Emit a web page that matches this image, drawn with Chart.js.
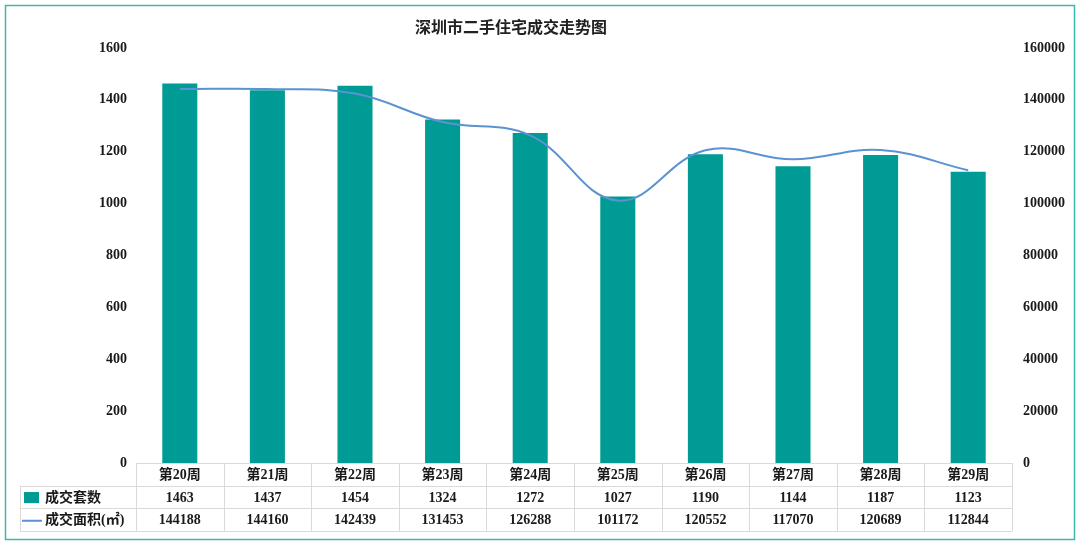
<!DOCTYPE html>
<html>
<head>
<meta charset="utf-8">
<script src="https://cdn.jsdelivr.net/npm/chart.js@4"></script>
<style>
  html, body { margin: 0; padding: 0; background: #fff; }
  #wrap { width: 1080px; height: 545px; position: relative; }
</style>
</head>
<body>
<div id="wrap"><canvas id="ch"></canvas></div>
<script>
// ── 数据 ──
const weeks = ['第20周', '第21周', '第22周', '第23周', '第24周', '第25周', '第26周', '第27周', '第28周', '第29周'];
const units = [1463, 1437, 1454, 1324, 1272, 1027, 1190, 1144, 1187, 1123];
const areas = [144188, 144160, 142439, 131453, 126288, 101172, 120552, 117070, 120689, 112844];
const leftTicks = [0, 200, 400, 600, 800, 1000, 1200, 1400, 1600];
const rightTicks = [0, 20000, 40000, 60000, 80000, 100000, 120000, 140000, 160000];

const TITLE = '深圳市二手住宅成交走势图';
const NAME_UNITS = '成交套数';
const NAME_AREA = '成交面积(㎡)';

const BAR_COLOR = '#009b94';
const LINE_COLOR = '#5b92d2';
const FONT = "'Liberation Serif', 'Noto Sans CJK SC', serif";

// ── 边框 + 标题 + 数据表 ──
const tablePlugin = {
  id: 'dataTable',
  beforeDraw(chart) {
    const c = chart.ctx;
    c.save();
    c.fillStyle = '#fff';
    c.fillRect(0, 0, chart.width, chart.height);
    c.restore();
  },
  afterDraw(chart) {
    const c = chart.ctx;
    const area = chart.chartArea;
    const xs = chart.scales.x;
    const n = weeks.length;
    const step = (area.right - area.left) / n;
    const top = area.bottom;
    const rowH = 22.7;
    const legL = 20;

    c.save();
    // 外框
    c.strokeStyle = '#3db6ae';
    c.lineWidth = 1.5;
    c.strokeRect(5.5, 5.5, chart.width - 11, chart.height - 11);

    // 标题
    c.fillStyle = '#222';
    c.font = "bold 16px 'Noto Sans CJK SC', sans-serif";
    c.textAlign = 'center';
    c.textBaseline = 'middle';
    c.fillText(TITLE, 511, 27);

    // 表格线
    c.strokeStyle = '#dadada';
    c.lineWidth = 1;
    c.beginPath();
    c.moveTo(area.left, top + 0.5); c.lineTo(area.right, top + 0.5);
    for (let r = 1; r <= 3; r++) {
      const y = Math.round(top + r * rowH) + 0.5;
      c.moveTo(legL, y); c.lineTo(area.right, y);
    }
    for (let i = 0; i <= n; i++) {
      const x = Math.round(area.left + i * step) + 0.5;
      c.moveTo(x, top); c.lineTo(x, top + 3 * rowH);
    }
    c.moveTo(legL + 0.5, top + rowH); c.lineTo(legL + 0.5, top + 3 * rowH);
    c.stroke();

    // 单元格文字
    c.fillStyle = '#1a1a1a';
    c.textAlign = 'center';
    c.font = 'bold 14px ' + FONT;
    for (let i = 0; i < n; i++) {
      const x = xs.getPixelForValue(i);
      c.fillText(weeks[i], x, top + rowH * 0.5 + 1);
      c.fillText(String(units[i]), x, top + rowH * 1.5 + 1);
      c.fillText(String(areas[i]), x, top + rowH * 2.5 + 1);
    }

    // 图例列
    c.textAlign = 'left';
    c.font = 'bold 14px ' + FONT;
    c.fillStyle = BAR_COLOR;
    c.fillRect(24, top + rowH * 1.5 - 5, 15, 11);
    c.fillStyle = '#1a1a1a';
    c.fillText(NAME_UNITS, 45, top + rowH * 1.5 + 1);
    c.strokeStyle = LINE_COLOR;
    c.lineWidth = 2;
    c.beginPath();
    c.moveTo(22, top + rowH * 2.5 + 1); c.lineTo(42, top + rowH * 2.5 + 1);
    c.stroke();
    c.fillText(NAME_AREA, 45, top + rowH * 2.5 + 1);
    c.restore();
  }
};

const tickFont = { family: FONT, size: 14, weight: 'bold' };

new Chart(document.getElementById('ch'), {
  data: {
    labels: weeks,
    datasets: [
      {
        type: 'line', label: NAME_AREA, data: areas, yAxisID: 'y1', order: 0,
        borderColor: LINE_COLOR, borderWidth: 2, tension: 0.4,
        pointRadius: 0, fill: false
      },
      {
        type: 'bar', label: NAME_UNITS, data: units, yAxisID: 'y', order: 1,
        backgroundColor: BAR_COLOR, borderWidth: 0,
        categoryPercentage: 1, barPercentage: 0.4
      }
    ]
  },
  plugins: [tablePlugin],
  options: {
    responsive: true, maintainAspectRatio: false, animation: false,
    layout: { padding: { top: 48, bottom: 82, left: 0, right: 0 } },
    plugins: { legend: { display: false }, title: { display: false }, tooltip: { enabled: false } },
    scales: {
      x: { display: false, offset: true },
      y: {
        position: 'left', min: 0, max: 1600,
        afterFit: s => { s.width = 136; },
        afterBuildTicks: s => { s.ticks = leftTicks.map(v => ({ value: v })); },
        grid: { display: false, drawTicks: false }, border: { display: false },
        ticks: { padding: 9, color: '#1a1a1a', font: tickFont, callback: v => String(v) }
      },
      y1: {
        position: 'right', min: 0, max: 160000,
        afterFit: s => { s.width = 68; },
        afterBuildTicks: s => { s.ticks = rightTicks.map(v => ({ value: v })); },
        grid: { display: false, drawTicks: false }, border: { display: false },
        ticks: { padding: 11, color: '#1a1a1a', font: tickFont, callback: v => String(v) }
      }
    }
  }
});
</script>
</body>
</html>
